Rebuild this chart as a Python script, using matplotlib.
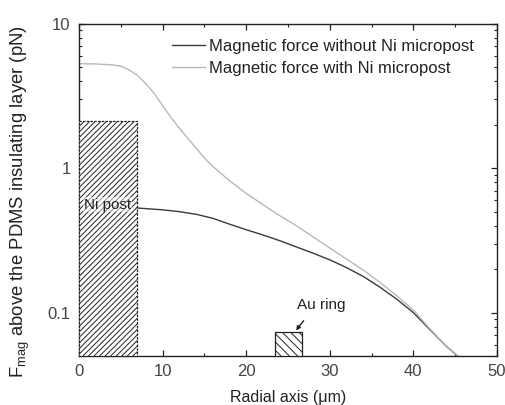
import matplotlib
matplotlib.use("Agg")
import matplotlib.pyplot as plt
from matplotlib.patches import Rectangle
from matplotlib.ticker import FixedLocator, LogLocator, MultipleLocator, NullFormatter

plt.rcParams['font.family'] = ['Liberation Sans', 'DejaVu Sans']
plt.rcParams['mathtext.fontset'] = 'custom'
plt.rcParams['mathtext.rm'] = 'Liberation Sans'
plt.rcParams['hatch.linewidth'] = 0.7

# Data
x_without = [0, 3, 7, 10, 12, 14, 16, 18, 20, 22, 24, 26, 28, 30, 32, 34, 36, 38, 40, 42, 44, 45.3]
y_without = [0.56, 0.55, 0.53, 0.515, 0.50, 0.48, 0.45, 0.41, 0.375, 0.345, 0.315, 0.285,
             0.258, 0.232, 0.205, 0.178, 0.15, 0.124, 0.100, 0.076, 0.058, 0.05]

x_with = [0, 2, 4, 5, 6, 7, 8, 9, 10, 11, 12, 13, 14, 15, 16, 17, 18, 20, 22, 24, 26, 28,
          30, 32, 34, 36, 38, 40, 42, 44, 45.3]
y_with = [5.3, 5.28, 5.2, 5.1, 4.8, 4.4, 3.85, 3.3, 2.72, 2.25, 1.9, 1.62, 1.38, 1.18, 1.03,
          0.92, 0.82, 0.67, 0.56, 0.47, 0.40, 0.335, 0.28, 0.235, 0.197, 0.162, 0.131,
          0.104, 0.077, 0.058, 0.05]

ni_post = (0, 7, 2.12)       # x start, x end, top
au_ring = (23.4, 26.7, 0.073)

labels = ["Magnetic force without Ni micropost", "Magnetic force with Ni micropost"]
x_ticks = [0, 10, 20, 30, 40, 50]
y_ticks = [0.1, 1, 10]
y_ticklabels = ["0.1", "1", "10"]

fig = plt.figure(figsize=(5.06, 4.05), dpi=100)
ax = fig.add_axes([0.156, 0.121, 0.826, 0.820])

ax.plot(x_without, y_without, color='#3a3a3a', lw=1.0, label=labels[0], zorder=2)
ax.plot(x_with, y_with, color='#b8b8b8', lw=1.0, label=labels[1], zorder=2)

ymin = 0.05
ax.add_patch(Rectangle((ni_post[0], ymin), ni_post[1] - ni_post[0], ni_post[2] - ymin,
                       facecolor='white', edgecolor='#222222', hatch='//////',
                       lw=0.9, ls=(0, (2, 1)), zorder=3))
ax.add_patch(Rectangle((au_ring[0], ymin), au_ring[1] - au_ring[0], au_ring[2] - ymin,
                       facecolor='white', edgecolor='#222222', hatch='\\\\\\\\',
                       lw=0.9, zorder=3))

ax.text(0.6, 0.56, "Ni post", fontsize=11, color='#222222', va='center', ha='left',
        zorder=4, bbox=dict(facecolor='white', edgecolor='none', pad=0.3, alpha=0.5))
ax.annotate("Au ring", xy=(26.0, 0.075), xytext=(29.0, 0.113), fontsize=11,
            color='#222222', ha='center', va='center',
            arrowprops=dict(arrowstyle='-|>', color='#222222', lw=1.0,
                            mutation_scale=6, shrinkA=6, shrinkB=0,
                            connectionstyle='arc3,rad=0.1'), zorder=4)

ax.set_yscale('log')
ax.set_xlim(0, 50)
ax.set_ylim(ymin, 10)
ax.xaxis.set_major_locator(FixedLocator(x_ticks))
ax.xaxis.set_minor_locator(MultipleLocator(5))
ax.yaxis.set_major_locator(FixedLocator(y_ticks))
ax.set_yticklabels(y_ticklabels)
ax.yaxis.set_minor_locator(LogLocator(base=10, subs=range(2, 10)))
ax.yaxis.set_minor_formatter(NullFormatter())

ax.tick_params(which='both', direction='in', top=True, right=True, colors='#222222',
               labelcolor='#444444', labelsize=12)
ax.tick_params(which='major', length=4, width=0.9, pad=6)
ax.tick_params(which='minor', length=2.5, width=0.8)
for s in ax.spines.values():
    s.set_color('#222222')
    s.set_linewidth(1.0)

ax.set_xlabel("Radial axis (\u03bcm)", fontsize=11.5, color='#222222', labelpad=8)
ax.set_ylabel(r"F$_{\mathrm{mag}}$ above the PDMS insulating layer (pN)", fontsize=13.3,
              color='#222222', va='center')
ax.yaxis.set_label_coords(-0.141, 0.464)

leg = ax.legend(loc='upper left', bbox_to_anchor=(0.2225, 0.955), frameon=False,
                fontsize=12, handlelength=2.0, handletextpad=0.2, labelspacing=0.4,
                borderaxespad=0.0, borderpad=0.0)
for t in leg.get_texts():
    t.set_color('#222222')

fig.savefig("out.png", dpi=100)
